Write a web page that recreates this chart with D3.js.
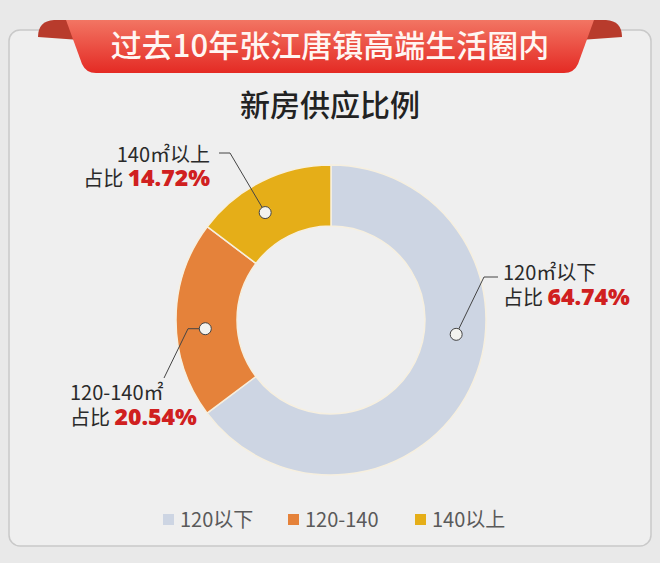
<!DOCTYPE html>
<html>
<head>
<meta charset="utf-8">
<script src="https://cdn.jsdelivr.net/npm/d3@7"></script>
<style>
  html, body { margin: 0; padding: 0; background: #e9e9e9; }
  svg { display: block; }
  text { font-family: "Noto Sans CJK SC", "Noto Sans", sans-serif; }
</style>
</head>
<body>
<svg id="chart" width="660" height="563"></svg>
<script>
// data
var categories = ["120以下", "120-140", "140以上"];
var shares = [64.74, 20.54, 14.72];
var labelNames = ["120㎡以下", "120-140㎡", "140㎡以上"];
var sliceColors = ["#cdd5e3", "#e5823a", "#e5ae18"];
var banner = "过去10年张江唐镇高端生活圈内";
var title = "新房供应比例";

var W = 660, H = 563;
var cx = 331, cy = 320, rOuter = 155, rInner = 94;

var svg = d3.select("#chart");
var defs = svg.append("defs");

var grad = defs.append("linearGradient").attr("id", "ribbon")
  .attr("x1", 0).attr("y1", 0).attr("x2", 0).attr("y2", 1);
grad.append("stop").attr("offset", "0%").attr("stop-color", "#f27563");
grad.append("stop").attr("offset", "100%").attr("stop-color", "#e42a24");

// card
svg.append("rect").attr("x", 9).attr("y", 30).attr("width", 642).attr("height", 516)
  .attr("rx", 11).attr("fill", "#efefef").attr("stroke", "#c9c9c9").attr("stroke-width", 1.5);

// ribbon ears
svg.append("path").attr("d", "M38,37 Q38,21 54,20 L80,20 L80,40 Z").attr("fill", "#b83b2c");
svg.append("path").attr("d", "M622,37 Q622,21 606,20 L580,20 L580,40 Z").attr("fill", "#b83b2c");

// ribbon body
svg.append("path")
  .attr("d", "M66,20 L594,20 L578,64 Q574,73 564,73 L96,73 Q86,73 82,64 Z")
  .attr("fill", "url(#ribbon)");

svg.append("text").attr("x", 330).attr("y", 57).attr("text-anchor", "middle")
  .attr("fill", "#fff6f2").attr("font-size", 31).attr("font-weight", 500)
  .text(banner);

svg.append("text").attr("x", 330).attr("y", 116).attr("text-anchor", "middle")
  .attr("fill", "#222").attr("font-size", 30).attr("font-weight", 500)
  .text(title);

// donut
var pie = d3.pie().sort(null).value(function(d) { return d; });
var arcs = pie(shares);
var arc = d3.arc().innerRadius(rInner).outerRadius(rOuter);

var g = svg.append("g").attr("transform", "translate(" + cx + "," + cy + ")");
g.selectAll("path").data(arcs).enter().append("path")
  .attr("d", arc)
  .attr("fill", function(d, i) { return sliceColors[i]; })
  .attr("stroke", "#f6efdf").attr("stroke-width", 1.5);

// label layout (dot angle shift from slice middle, degrees)
var dotShift = [-20, -4, -5];
var dotR = 126;
var dots = arcs.map(function(d, i) {
  var a = (d.startAngle + d.endAngle) / 2 + dotShift[i] * Math.PI / 180;
  return [cx + dotR * Math.sin(a), cy - dotR * Math.cos(a)];
});

var leaders = [
  [dots[0], [484, 277], [498, 277]],
  [dots[1], [188, dots[1][1]], [164, 378]],
  [dots[2], [230, 153], [219, 153]]
];
var line = d3.line();
svg.selectAll("path.leader").data(leaders).enter().append("path")
  .attr("class", "leader")
  .attr("d", line).attr("fill", "none").attr("stroke", "#444").attr("stroke-width", 1);

svg.selectAll("circle.dot").data(dots).enter().append("circle")
  .attr("class", "dot")
  .attr("cx", function(d) { return d[0]; }).attr("cy", function(d) { return d[1]; })
  .attr("r", 6).attr("fill", "#f3f3ef").attr("stroke", "#444").attr("stroke-width", 1);

var labelPos = [
  {x: 503, y1: 280, y2: 305, anchor: "start"},
  {x: 70, y1: 400, y2: 425, anchor: "start"},
  {x: 210, y1: 162, y2: 186, anchor: "end"}
];

labelPos.forEach(function(p, i) {
  svg.append("text").attr("x", p.x).attr("y", p.y1).attr("text-anchor", p.anchor)
    .attr("fill", "#2a2a2a").attr("font-size", 20).text(labelNames[i]);
  var t = svg.append("text").attr("x", p.x).attr("y", p.y2).attr("text-anchor", p.anchor)
    .attr("fill", "#2a2a2a").attr("font-size", 20);
  t.append("tspan").text("占比 ");
  t.append("tspan").attr("fill", "#d02020").attr("font-size", 23).attr("font-weight", 900)
    .attr("font-family", "'Noto Sans', sans-serif")
    .text(shares[i].toFixed(2) + "%");
});

// legend
var legendX = [163, 288, 415];
var lg = svg.selectAll("g.leg").data(categories).enter().append("g")
  .attr("class", "leg")
  .attr("transform", function(d, i) { return "translate(" + legendX[i] + ",520)"; });
lg.append("rect").attr("x", 0).attr("y", -6).attr("width", 11).attr("height", 11)
  .attr("fill", function(d, i) { return sliceColors[i]; });
lg.append("text").attr("x", 17).attr("y", 7).attr("fill", "#5a5a5a").attr("font-size", 20)
  .text(function(d) { return d; });
</script>
</body>
</html>
